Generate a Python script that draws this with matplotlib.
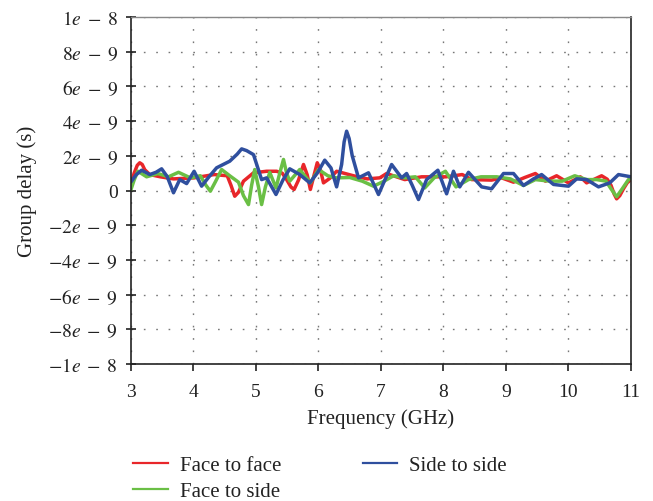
import numpy as np
import matplotlib
matplotlib.use("Agg")
import matplotlib.pyplot as plt

plt.rcParams['font.family'] = ['Liberation Serif', 'DejaVu Serif']
plt.rcParams['mathtext.fontset'] = 'stix'

# Datos (frecuencia en GHz, retardo en ns)
f_ff = [3.0, 3.05, 3.1, 3.14, 3.18, 3.22, 3.30, 3.47, 3.68, 4.01, 4.33, 4.54, 4.6, 4.66,
        4.72, 4.80, 4.96, 5.17, 5.33, 5.42, 5.49, 5.56, 5.61, 5.68, 5.76, 5.82, 5.87,
        5.93, 5.98, 6.03, 6.08, 6.18, 6.29, 6.56, 6.78, 6.98, 7.09, 7.38, 7.65, 8.04,
        8.30, 8.45, 8.77, 8.93, 9.12, 9.3, 9.47, 9.63, 9.81, 10.0, 10.19, 10.29, 10.53,
        10.62, 10.68, 10.73, 10.77, 10.82, 10.88, 10.94, 11.0]
gd_ff = [0.3, 1.0, 1.45, 1.6, 1.5, 1.2, 0.92, 0.79, 0.67, 0.73, 0.92, 0.85, 0.3, -0.33,
         -0.1, 0.54, 1.02, 1.11, 1.11, 1.0, 0.63, 0.2, 0.06, 0.6, 1.5, 0.9, 0.06,
         0.9, 1.6, 1.2, 0.44, 0.7, 1.11, 0.85, 0.67, 0.73, 0.98, 0.63, 0.79, 0.79,
         0.92, 0.63, 0.6, 0.73, 0.48, 0.75, 0.98, 0.54, 0.85, 0.44, 0.79, 0.44, 0.85,
         0.65, 0.3, -0.2, -0.48, -0.3, 0.1, 0.45, 0.63]

f_fs = [3.0, 3.05, 3.11, 3.25, 3.43, 3.60, 3.76, 3.95, 4.11, 4.2, 4.27, 4.35, 4.45,
        4.58, 4.72, 4.8, 4.88, 4.93, 4.98, 5.04, 5.09, 5.15, 5.22, 5.27, 5.32, 5.38,
        5.44, 5.49, 5.54, 5.70, 5.87, 6.0, 6.15, 6.28, 6.5, 6.7, 6.88, 7.05, 7.2,
        7.38, 7.55, 7.70, 7.85, 8.03, 8.20, 8.40, 8.6, 8.85, 9.07, 9.28, 9.47, 9.7,
        9.9, 10.1, 10.29, 10.45, 10.6, 10.68, 10.77, 10.86, 10.96, 11.0]
gd_fs = [0.06, 0.6, 1.11, 0.79, 0.98, 0.79, 1.05, 0.73, 0.85, 0.3, -0.04, 0.5, 1.21,
         0.85, 0.48, -0.3, -0.81, 0.3, 1.21, 0.2, -0.81, 0.2, 1.05, 0.6, 0.15, 1.0,
         1.79, 1.0, 0.54, 1.21, 0.44, 1.21, 0.85, 0.73, 0.75, 0.54, 0.25, 0.54, 0.85,
         0.73, 0.79, 0.15, 0.73, 1.11, 0.21, 0.63, 0.79, 0.79, 0.67, 0.29, 0.63, 0.54,
         0.54, 0.85, 0.63, 0.63, 0.54, 0.1, -0.36, 0.1, 0.63, 0.7]

f_ss = [3.0, 3.08, 3.17, 3.30, 3.40, 3.49, 3.58, 3.68, 3.78, 3.89, 4.01, 4.13, 4.25,
        4.37, 4.58, 4.70, 4.77, 4.85, 4.96, 5.09, 5.17, 5.32, 5.43, 5.54, 5.70, 5.86,
        5.98, 6.10, 6.20, 6.29, 6.37, 6.41, 6.45, 6.49, 6.54, 6.64, 6.80, 6.96, 7.17,
        7.33, 7.41, 7.50, 7.60, 7.73, 7.91, 8.05, 8.16, 8.26, 8.40, 8.61, 8.77, 8.96,
        9.12, 9.28, 9.44, 9.57, 9.76, 10.0, 10.13, 10.29, 10.48, 10.66, 10.80, 11.0]
gd_ss = [0.5, 0.9, 1.17, 0.92, 1.05, 1.25, 0.8, -0.13, 0.63, 0.4, 1.11, 0.25, 0.8,
         1.31, 1.69, 2.1, 2.4, 2.3, 2.07, 0.63, 0.73, -0.23, 0.6, 1.25, 0.92, 0.44,
         1.0, 1.75, 1.3, 0.21, 1.5, 2.8, 3.42, 3.0, 2.0, 0.73, 1.02, -0.23, 1.5,
         0.73, 0.98, 0.3, -0.52, 0.63, 1.17, -0.19, 1.11, 0.21, 1.05, 0.21, 0.1, 0.98,
         0.98, 0.29, 0.67, 0.92, 0.35, 0.25, 0.67, 0.63, 0.21, 0.44, 0.92, 0.79]

x_ticks = [3, 4, 5, 6, 7, 8, 9, 10, 11]
y_ticks = [-1e-8, -8e-9, -6e-9, -4e-9, -2e-9, 0, 2e-9, 4e-9, 6e-9, 8e-9, 1e-8]
y_labels = [r'$-1e\;-\;8$', r'$-8e\;-\;9$', r'$-6e\;-\;9$', r'$-4e\;-\;9$',
            r'$-2e\;-\;9$', '0', r'$2e\;-\;9$', r'$4e\;-\;9$', r'$6e\;-\;9$',
            r'$8e\;-\;9$', r'$1e\;-\;8$']

series = [
    (f_ff, gd_ff, '#e8262a', 'Face to face'),
    (f_fs, gd_fs, '#6abf45', 'Face to side'),
    (f_ss, gd_ss, '#2f4f9e', 'Side to side'),
]

fig = plt.figure(figsize=(6.53, 5.02), dpi=100)
ax = fig.add_axes([0.2006, 0.273, 0.7657, 0.691])

handles = []
for f, gd, col, lab in series:
    ax.plot(f, np.array(gd) * 1e-9, color=col, lw=2.5, solid_joinstyle='round',
            solid_capstyle='round')
    h, = ax.plot([], [], color=col, lw=1.6, label=lab)
    handles.append(h)

ax.set_xlim(3, 11)
ax.set_ylim(-1e-8, 1e-8)
ax.set_xticks(x_ticks)
ax.set_yticks(y_ticks)
ax.set_yticklabels(y_labels)
ax.tick_params(axis='x', direction='out', length=5, width=1.2, pad=9,
               labelsize=14, colors='#222222')
ax.tick_params(axis='y', direction='inout', length=7, width=1.2, pad=6,
               labelsize=14, colors='#222222')
ax.grid(True, color='#777777', lw=1.0, linestyle=(0, (1.2, 7.7)))

ax.spines['top'].set_color('#888888')
ax.spines['top'].set_linewidth(1.0)
for s in ['left', 'bottom', 'right']:
    ax.spines[s].set_linewidth(1.2)
    ax.spines[s].set_color('#222222')

ax.set_xlabel('Frequency (GHz)', fontsize=15, color='#222222', labelpad=6)
ax.set_ylabel('Group delay (s)', fontsize=15, color='#222222', labelpad=8)

# Orden de la leyenda: columna 1 (rojo, verde), columna 2 (azul)
leg = fig.legend(handles=handles, loc='upper left', bbox_to_anchor=(0.2037, 0.09),
                 ncol=2, frameon=False, fontsize=15, handlelength=1.67,
                 columnspacing=3.9, handletextpad=0.58, labelspacing=0.31,
                 borderpad=0, borderaxespad=0)
for t in leg.get_texts():
    t.set_color('#222222')

plt.savefig('out.png', dpi=100)
